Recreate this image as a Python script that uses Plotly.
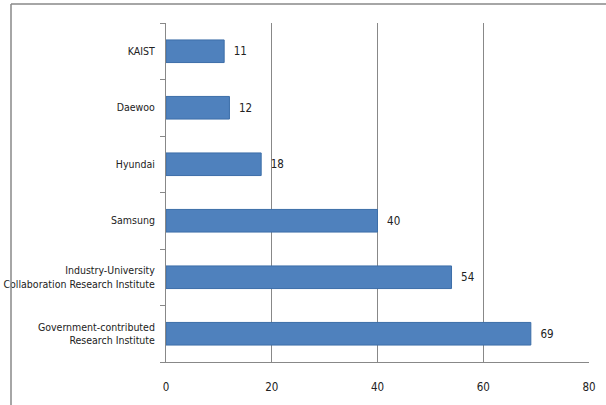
import plotly.graph_objects as go

categories = [
    "Government-contributed<br>Research Institute",
    "Industry-University<br>Collaboration Research Institute",
    "Samsung",
    "Hyundai",
    "Daewoo",
    "KAIST",
]
values = [69, 54, 40, 18, 12, 11]
x_ticks = [0, 20, 40, 60, 80]

FONT = "DejaVu Sans Condensed, Liberation Sans Narrow, sans-serif"

fig = go.Figure(
    go.Bar(
        x=values,
        y=categories,
        orientation="h",
        width=0.4,
        marker=dict(color="#4F81BD", line=dict(color="#3C6EA8", width=1)),
        text=["  " + str(v) for v in values],
        textposition="outside",
        textfont=dict(family=FONT, size=11.5, color="#222222"),
        cliponaxis=False,
    )
)

L, R, T, B = 166, 589, 23, 362
W, H = 606, 405
pw, ph = R - L, B - T

fig.update_layout(
    width=W,
    height=H,
    margin=dict(l=L, r=W - R, t=T, b=H - B, pad=0, autoexpand=False),
    paper_bgcolor="white",
    plot_bgcolor="white",
    showlegend=False,
    font=dict(family=FONT, size=11, color="#222222"),
    xaxis=dict(
        range=[0, 80],
        tickvals=x_ticks,
        showgrid=True,
        gridcolor="#888888",
        gridwidth=1,
        zeroline=False,
        showline=True,
        linecolor="#888888",
        ticks="",
        automargin=False,
        ticklabelstandoff=14,
        tickfont=dict(family=FONT, size=11.5),
    ),
    yaxis=dict(
        showline=True,
        linecolor="#888888",
        ticks="outside",
        ticklen=5,
        tickcolor="#888888",
        tickson="boundaries",
        showgrid=False,
        automargin=False,
        ticklabelstandoff=8,
        tickfont=dict(family=FONT, size=10.5),
    ),
    shapes=[
        dict(type="line", xref="paper", yref="paper",
             x0=(11 - L) / pw, x1=(W - L) / pw, y0=(B - 4) / ph, y1=(B - 4) / ph,
             line=dict(color="#888888", width=1.5)),
        dict(type="line", xref="paper", yref="paper",
             x0=(11 - L) / pw, x1=(11 - L) / pw, y0=(B - 4) / ph, y1=(B - H) / ph,
             line=dict(color="#888888", width=1.5)),
    ],
)

fig.write_html(
    "out.html",
    config={"displayModeBar": False},
    post_script="document.body.style.margin='0';",
)
